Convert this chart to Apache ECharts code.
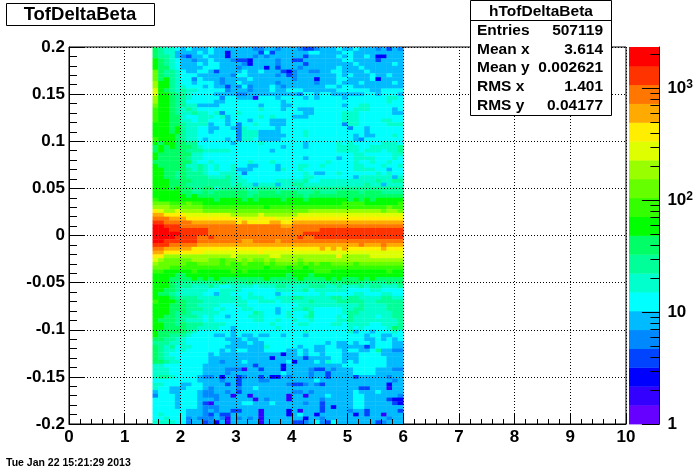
<!DOCTYPE html>
<html><head><meta charset="utf-8">
<style>html,body{margin:0;padding:0;background:#fff}#c{width:696px;height:472px}</style>
<script src="https://cdn.jsdelivr.net/npm/echarts@6/dist/echarts.min.js"></script>
</head><body><div id="c"></div>
<script>
// Contour colours of the palette, lowest count level first
var palette = ['#6600ff','#3300ff','#0000ff','#0044ff','#0088ff','#00bbff','#00ffff','#00ffcc','#00ff99','#00ff66','#00ff00','#33ff00','#66ff00','#99ff00','#ddff00','#ffee00','#ffaa00','#ff7700','#ff3300','#ff0000'];
var zMin = 1, zMax = 2320;
var xBinStart = 1.5, xBinWidth = 0.1, yTop = 0.2, yBinHeight = 0.004;
// Contour level read for each cell: top row first, base-20 digit per x bin, grouped by five
var levelRows = [
'98776 56555 65555 55544 55455 54334 55565 56555 45354',
'98775 55565 65525 55553 63555 55566 55556 65555 55555',
'98875 43556 55525 55545 45555 55355 55565 65565 22555',
'a9876 55455 65554 33255 55455 33555 55556 65555 35555',
'a9876 55565 66555 54255 55455 55355 55555 56555 55565',
'a9976 55556 66555 45555 25355 54555 55565 55655 55555',
'c9887 65566 53555 56556 55532 45544 55665 55565 55555',
'c9887 66655 55554 66555 55453 45555 55565 65556 55655',
'c9a87 66465 55455 55655 55555 45552 55566 55556 25555',
'daa87 66566 65455 65555 55455 55554 55565 55655 55565',
'daa87 76665 65535 46455 56545 55555 56656 65555 55555',
'ea987 87766 66645 55455 56556 66555 55566 66665 56666',
'eaa98 87666 65555 44555 55555 54665 66555 55566 56665',
'daa98 87666 66466 55516 66566 66565 66665 66666 66776',
'daa98 86666 65566 66666 66656 66666 66666 66666 66766',
'caa98 87755 55666 66665 66655 66666 66665 66776 66666',
'baa98 78766 66666 66667 66656 65556 66666 67776 66656',
'baa98 77877 67466 76666 66666 66556 66667 77666 66655',
'baa99 76677 76756 66667 67666 55566 66667 77666 66666',
'baa99 77677 66656 66566 65556 66666 66667 77666 67766',
'aaa99 87777 56656 46676 65556 66666 66664 77666 66777',
'aaa9a 87766 55665 47666 66566 66666 66666 46656 66666',
'aaa9a 87766 56666 47775 55566 66766 66666 66656 66666',
'aaaa9 87766 66666 47775 55556 66766 66666 65655 66676',
'baaa9 87765 66656 47765 55566 66666 66666 65466 66666',
'a9aa9 98866 66665 66667 66666 66566 66676 76666 67776',
'9a9a9 99876 66666 66666 66656 66566 66677 77667 77778',
'9a999 98887 77776 66666 65666 66666 66677 77677 76778',
'a9999 99776 66666 66666 66666 66666 66666 67766 66677',
'a9999 98776 66666 66666 66666 66566 66656 67777 66676',
'99999 99766 76666 66766 67666 66666 67666 67667 66766',
'a9999 97787 67667 66556 66566 67766 76666 67766 67667',
'aa999 98787 67667 55566 66576 67666 66666 67777 66566',
'aa998 98887 66777 64666 66666 66765 56676 66666 76766',
'aa998 98888 77787 76666 66666 66776 66666 65777 77757',
'aaa99 99888 88887 77666 66777 77866 77777 77777 87788',
'aaa99 98888 88887 87757 77577 88777 77777 77787 75777',
'aaa9a 99889 97888 88788 88877 78888 88888 88888 88888',
'aaaaa 99889 89999 99889 99899 98889 88899 99899 98888',
'aaaaa a9a99 99999 99899 99999 99899 99999 99999 99999',
'baaaa aaaaa a9aaa a9a9a aaa9a aa9aa aaaaa 9a9a9 aaaaa',
'cccbb bcbba aaaaa aaaaa aaaaa aaaaa aaaab bbbaa aaaab',
'dddcc ccccb bbbbb bbbbb abbbb bbbbb bbbbb bbbbb bbcbb',
'fedde ddddc ccccc ccccc ccccc cccdd ddddd ddddd dcddc',
'ggfff feeee eeeed dddde ddddd deeee eeeee eeeee eeeee',
'hhhgg gffff fffff feeef ffeee fffff fffff fffff fffff',
'iihhh hhggg ggggg fgfff fggff ggggg ggggg ggggg ggggg',
'jjiii hhhhh hhhhh hhhhh hhhgg hhhhh hhhhh hhhhh hhhhh',
'jjjii iiiii hhhhh hhhhh hhhhh hhhhh iiiii iiiii iiiii',
'jjjjj iiiii hhhhh hhhhh hhhhh hhiii iiiii iiiii iiiii',
'jjjji iiihh ihhhh hhhhh hhhhh hihhi iiiii iiiii iiiii',
'jjiii iiihh hhhhh hgghh hhghh hhhhh hhhhh hhhhh hhhhh',
'iiihh hhhgg ggggg ggggg ggggg ggggg ggggg gghgg ghggg',
'hhggg ggfff fffff fffff fffff fffff gfgfg fffff fgfff',
'ggfff ffffe eeeee eeeef eeeee eeeee eeeee eeeee eeeee',
'ffddd ddddd dddde ddddd deedd ddddd dddfd dddde eeeee',
'edccc ccddd ccbcc dcdcc dcddd dcddd ddddd ddddd ddddd',
'dcccc cbbcc ccbcb bcbbb cbccc cbcbc bbccc cbccc ccccc',
'cccbb bbbbb bbbbb bbbbb abbba bbabb bbbbb bbbbb bbbbb',
'bbaaa aabaa aaaab abaaa aaaaa aaaab bbaaa aaaaa aabaa',
'aaaa9 9aaaa aaaaa aaaaa aaaa9 aaa9a aaaaa aaaaa aaaaa',
'aaa99 99a9a 9a999 99999 a9999 9a999 9a9a9 99a9a 99999',
'aaa98 88888 88988 88988 88888 88888 88989 99888 88989',
'aaa98 88777 87667 77767 77887 77788 87787 77878 87778',
'aa998 77777 66777 76666 66777 77867 77777 66667 76666',
'a9987 77776 65776 66766 66566 66666 76666 67766 67766',
'aaa98 88877 77777 76777 66777 88777 77887 88777 78877',
'baaa9 98887 77777 77667 77677 77787 77788 88877 88888',
'aaa99 98877 77666 77666 66666 67777 77777 77877 77888',
'aaa99 98887 76766 67766 66566 77876 66667 78877 77888',
'aaa98 98777 77666 66687 66567 66686 66667 88777 77788',
'aa998 88876 76656 66777 66667 66786 66676 87777 67788',
'a9998 87776 76666 66677 66766 76676 66677 87777 77778',
'aa998 98887 77766 66666 67666 67766 66776 77776 67778',
'aa999 98877 77665 66666 66766 66666 66666 76766 66798',
'a9999 98766 66665 66666 66666 66766 66666 75665 66676',
'a9988 87666 65565 65565 56656 66566 66666 66656 65566',
'99887 76666 66655 56556 66666 66666 66666 66655 65656',
'88877 76666 66665 55655 66666 66666 65655 65665 66655',
'98786 77666 66655 55555 76666 65665 56655 55535 66655',
'98776 76666 66565 66555 66665 56565 56665 66556 85544',
'98766 66666 56555 55555 55525 56566 56665 55666 65555',
'98776 66666 55555 55555 52555 55355 55665 55666 66555',
'99877 66666 55455 56555 55556 25556 57665 65666 66555',
'77666 66665 55555 55535 55525 55555 55556 66666 66555',
'77766 66665 55544 41553 55525 55543 35455 56666 55544',
'77766 66665 55545 55555 55565 55545 53555 56666 55555',
'78876 66654 45255 34553 52254 55545 53555 53555 55455',
'66666 66655 55455 35554 45555 55556 55555 55555 55545',
'77666 55665 55535 35555 55554 33454 35555 55555 55255',
'76655 56665 45555 45565 55555 55555 55555 55335 55155',
'56655 66654 45545 35555 55555 44545 55555 56555 65555',
'46665 66654 44551 55155 55551 55155 56555 56655 55554',
'66665 66655 54555 55515 45551 55555 45555 56655 55322',
'66665 66653 15555 56655 56555 55455 35555 56655 55532',
'66665 66654 44555 55555 55555 55555 35255 56655 55555',
'66666 65554 54553 35551 55552 51555 35555 45535 55553',
'67666 65554 35335 55551 55552 56552 55555 52535 51555',
'66766 64544 45415 45451 55555 55255 45555 55555 55455',
'77776 64553 42515 55551 55555 33456 43655 55555 34555'
];
var xTicks = [0,1,2,3,4,5,6,7,8,9,10];
var zLabelValues = [1,10,100,1000];
var zMinorTicks = [2,3,4,5,6,7,8,9,20,30,40,50,60,70,80,90,200,300,400,500,600,700,800,900,2000];
var titleText = 'TofDeltaBeta';
var statsName = 'hTofDeltaBeta';
var statsRows = [['Entries','507119'],['Mean x','3.614'],['Mean y','0.002621'],['RMS x','1.401'],['RMS y','0.04177']];
var dateText = 'Tue Jan 22 15:21:29 2013';

var FONT = '"Liberation Sans", Arial, sans-serif';
var cells = [];
levelRows.forEach(function (row, r) {
  row.replace(/ /g, '').split('').forEach(function (ch, c) {
    cells.push([xBinStart + c * xBinWidth, yTop - r * yBinHeight, parseInt(ch, 20)]);
  });
});
var levelStep = Math.log10(zMax / zMin) / palette.length;
var barLevels = palette.map(function (col, i) {
  return [Math.pow(10, i * levelStep), Math.pow(10, (i + 1) * levelStep), i];
});

var chart = echarts.init(document.getElementById('c'), null, {renderer: 'canvas'});
var labelBase = {fontFamily: FONT, fontWeight: 'bold', fontSize: 17, color: '#000'};
var graphic = [
  {type:'rect', z:100, shape:{x:6.5,y:3.5,width:148,height:22}, style:{fill:'#fff',stroke:'#000',lineWidth:1}},
  {type:'text', z:101, style:{x:80,y:14.5,text:titleText,align:'center',verticalAlign:'middle',font:'bold 18.5px '+FONT,fill:'#000'}},
  {type:'rect', z:100, shape:{x:470.5,y:0.5,width:141,height:115}, style:{fill:'#fff',stroke:'#000',lineWidth:1}},
  {type:'line', z:101, shape:{x1:470.5,y1:20.5,x2:611.5,y2:20.5}, style:{stroke:'#000',lineWidth:1}},
  {type:'text', z:101, style:{x:541,y:11.5,text:statsName,align:'center',verticalAlign:'middle',font:'bold 15.5px '+FONT,fill:'#000'}},
  {type:'text', z:101, style:{x:6,y:463.5,text:dateText,align:'left',verticalAlign:'middle',font:'bold 10.5px '+FONT,fill:'#000'}}
];
var statY = [31, 50, 68, 87, 106];
statsRows.forEach(function (s, i) {
  graphic.push({type:'text', z:101, style:{x:477,y:statY[i],text:s[0],align:'left',verticalAlign:'middle',font:'bold 15.5px '+FONT,fill:'#000'}});
  graphic.push({type:'text', z:101, style:{x:603,y:statY[i],text:s[1],align:'right',verticalAlign:'middle',font:'bold 15.5px '+FONT,fill:'#000'}});
});

chart.setOption({
  animation: false,
  backgroundColor: '#fff',
  graphic: graphic,
  grid: [
    {left:69, top:47, width:557, height:377, show:true, borderColor:'#000', borderWidth:1, backgroundColor:'#fff', z:0},
    {left:629, top:47, width:32.5, height:377, show:false}
  ],
  xAxis: [
    {type:'value', gridIndex:0, min:xTicks[0], max:xTicks[xTicks.length-1], interval:1, z:5,
     axisLine:{show:true,onZero:false,lineStyle:{color:'#000',width:1}},
     axisTick:{show:true,inside:true,length:11,lineStyle:{color:'#000'}},
     minorTick:{show:true,splitNumber:5,length:5,lineStyle:{color:'#000'}},
     splitLine:{show:true,lineStyle:{color:'#000',width:1,type:[1,2]}},
     axisLabel:Object.assign({margin:5},labelBase)},
    {type:'value', gridIndex:1, min:0, max:1, show:false}
  ],
  yAxis: [
    {type:'value', gridIndex:0, min:-0.2, max:0.2, interval:0.05, z:5,
     axisLine:{show:true,onZero:false,lineStyle:{color:'#000',width:1}},
     axisTick:{show:true,inside:true,length:16,lineStyle:{color:'#000'}},
     minorTick:{show:true,splitNumber:5,length:8,lineStyle:{color:'#000'}},
     splitLine:{show:true,lineStyle:{color:'#000',width:1,type:[1,2]}},
     axisLabel:Object.assign({margin:4},labelBase)},
    {type:'log', logBase:10, gridIndex:1, min:zMin, max:zMax, position:'right', z:5,
     axisLine:{show:true,onZero:false,lineStyle:{color:'#000',width:1}},
     axisTick:{show:true,inside:true,length:17.5,customValues:zLabelValues,lineStyle:{color:'#000'}},
     minorTick:{show:false},
     splitLine:{show:false},
     axisLabel:{show:true,margin:8,customValues:zLabelValues,
       formatter:function(v){ var n=Math.round(Math.log10(v)); return n===0?'{b|1}':n===1?'{b|10}':'{b|10}{s|'+n+'}'; },
       rich:{b:Object.assign({},labelBase),s:{fontFamily:FONT,fontWeight:'bold',fontSize:12,color:'#000',padding:[0,0,7,0]}}}}
  ],
  series: [
    {type:'custom', xAxisIndex:0, yAxisIndex:0, z:1, clip:true, silent:true, data:cells,
     encode:{x:0,y:1}, progressive:0,
     renderItem:function(p,api){
       var a=api.coord([api.value(0),api.value(1)]);
       var b=api.coord([api.value(0)+xBinWidth,api.value(1)-yBinHeight]);
       return {type:'rect',shape:{x:a[0],y:a[1],width:b[0]-a[0]+0.4,height:b[1]-a[1]+0.4},style:{fill:palette[api.value(2)]}};
     }},
    {type:'custom', xAxisIndex:1, yAxisIndex:1, z:1, silent:true, data:barLevels,
     encode:{y:[0,1]},
     renderItem:function(p,api){
       var a=api.coord([0,api.value(1)]), b=api.coord([1,api.value(0)]);
       return {type:'rect',shape:{x:a[0],y:a[1],width:b[0]-a[0],height:b[1]-a[1]+0.4},style:{fill:palette[api.value(2)]}};
     }},
    {type:'custom', xAxisIndex:1, yAxisIndex:1, z:6, silent:true, data:zMinorTicks.map(function(v){return [1,v];}),
     encode:{x:0,y:1},
     renderItem:function(p,api){
       var a=api.coord([api.value(0),api.value(1)]);
       var y=Math.round(a[1])+0.5;
       return {type:'line',shape:{x1:a[0]-9,y1:y,x2:a[0],y2:y},style:{stroke:'#000',lineWidth:1}};
     }}
  ]
});
</script></body></html>
